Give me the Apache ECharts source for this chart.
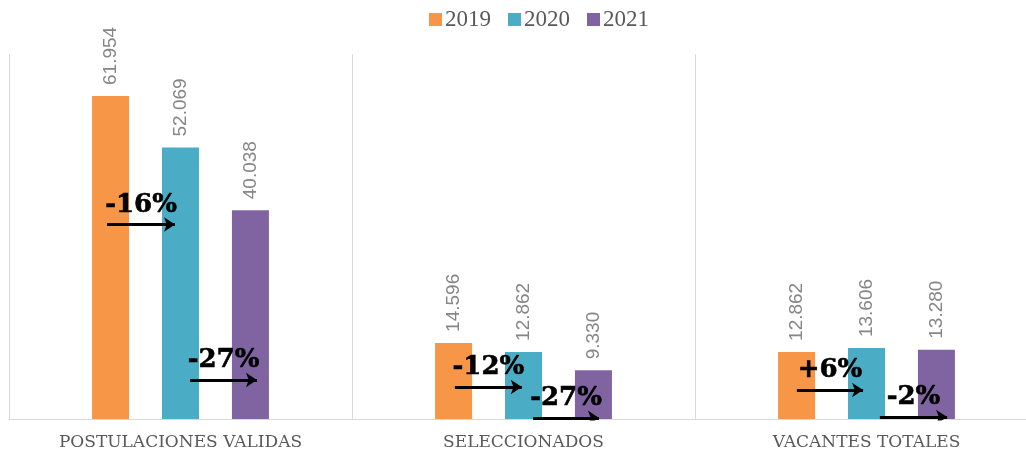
<!DOCTYPE html>
<html>
<head>
<meta charset="utf-8">
<script src="https://cdn.jsdelivr.net/npm/echarts@6/dist/echarts.min.js"></script>
<style>
html,body{margin:0;padding:0;background:#fff;}
#chart{width:1026px;height:455px;}
</style>
</head>
<body>
<div id="chart"></div>
<script>
// ---- data ----
const categories = ['POSTULACIONES VALIDAS', 'SELECCIONADOS', 'VACANTES TOTALES'];
const seriesNames = ['2019', '2020', '2021'];
const values2019 = [61954, 14596, 12862];
const values2020 = [52069, 12862, 13606];
const values2021 = [40038, 9330, 13280];
// annotations (percentage change arrows)
const annoLabels = ['-16%', '-27%', '-12%', '-27%', '+6%', '-2%'];
const annoStartX = [0.286, 0.528, 1.300, 1.528, 2.297, 2.539];
const annoEndX   = [0.484, 0.723, 1.495, 1.720, 2.490, 2.735];
const annoY      = [37300, 7480, 6140, 200, 5560, 380];

const colors = ['#F79646', '#4BACC6', '#8064A2'];
const valuesAll = [values2019, values2020, values2021];

function fmt(v) {
  return String(v).replace(/\B(?=(\d{3})+(?!\d))/g, '.');
}

const chart = echarts.init(document.getElementById('chart'), null, {renderer: 'canvas'});

const barSeries = seriesNames.map((n, i) => ({
  name: n,
  type: 'bar',
  xAxisIndex: 0,
  data: valuesAll[i],
  barWidth: 37,
  barGap: '89%',
  itemStyle: { color: colors[i] },
  label: {
    show: true,
    position: 'top',
    rotate: 90,
    align: 'left',
    verticalAlign: 'middle',
    distance: 11,
    formatter: p => fmt(p.value),
    color: '#868686',
    fontSize: 19,
    fontFamily: 'Liberation Sans'
  }
}));

const arrowSeries = {
  type: 'lines',
  coordinateSystem: 'cartesian2d',
  xAxisIndex: 1,
  yAxisIndex: 0,
  z: 10,
  symbol: ['none', 'arrow'],
  symbolSize: 11,
  lineStyle: { color: '#000', width: 3, opacity: 1, curveness: 0 },
  silent: true,
  data: annoLabels.map((t, i) => ({ coords: [[annoStartX[i], annoY[i]], [annoEndX[i], annoY[i]]] }))
};

const textSeries = {
  type: 'scatter',
  xAxisIndex: 1,
  yAxisIndex: 0,
  z: 11,
  symbolSize: 1,
  itemStyle: { color: 'rgba(0,0,0,0)' },
  silent: true,
  data: annoLabels.map((t, i) => ({ name: t, value: [(annoStartX[i] + annoEndX[i]) / 2, annoY[i]] })),
  label: {
    show: true,
    position: 'top',
    distance: 6,
    formatter: p => p.name,
    color: '#000000',
    opacity: 1,
    fontSize: 26,
    fontWeight: 'bold',
    fontFamily: 'DejaVu Serif',
    textBorderColor: '#000000',
    textBorderWidth: 0.6
  }
};

chart.setOption({
  animation: false,
  backgroundColor: '#fff',
  legend: {
    data: seriesNames,
    top: 3,
    left: 424,
    icon: 'rect',
    itemWidth: 13,
    itemHeight: 13,
    itemGap: 17,
    textStyle: { fontSize: 23, fontFamily: 'Liberation Serif', color: '#595959', padding: [0, 0, 0, -2] }
  },
  grid: { left: 9, width: 1029, top: 54, bottom: 36, outerBoundsMode: 'none' },
  xAxis: [
    {
      type: 'category',
      data: categories,
      boundaryGap: true,
      axisLine: { show: true, lineStyle: { color: '#d9d9d9', width: 1 } },
      axisTick: { show: false },
      splitLine: { show: true, lineStyle: { color: '#d9d9d9', width: 1 } },
      axisLabel: {
        margin: 15,
        fontSize: 17,
        fontFamily: 'DejaVu Serif',
        color: '#595959'
      }
    },
    { type: 'value', min: 0, max: 3, show: false }
  ],
  yAxis: {
    type: 'value', min: 0, max: 70000, show: false,
    splitLine: { show: false }
  },
  series: [...barSeries, arrowSeries, textSeries]
});
</script>
</body>
</html>
